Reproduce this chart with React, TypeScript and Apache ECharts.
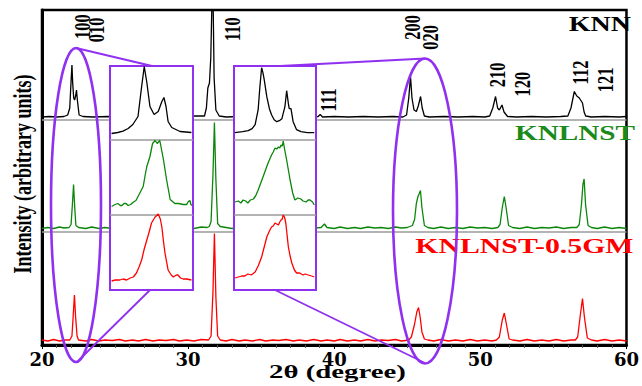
import { useEffect, useRef } from 'react';
import * as echarts from 'echarts';

// ---------- data ----------
const TWO_THETA_RANGE = [20, 60];
const TWO_THETA_STEP = 10;
const SAMPLE_NAMES = ['KNN', 'KNLNST', 'KNLNST-0.5GM'];
const SAMPLE_COLORS = ['#000000', '#0b860b', '#ff0000'];
const X_AXIS_NAME = '2θ (degree)';
const Y_AXIS_NAME = 'Intensity (arbitrary units)';
const PEAK_LABELS = ['100', '010', '110', '111', '200', '020', '210', '120', '112', '121'];

// main patterns: [2θ, intensity (a.u.)]
const KNN: [number, number][] = [
  [20.0, 1], [20.5, 1.5], [21.0, 1], [21.5, 1.5], [21.76, 3], [21.9, 10], [22.0, 40], [22.05, 53], [22.1, 35],
  [22.17, 20], [22.23, 18], [22.3, 22], [22.36, 28], [22.42, 18], [22.54, 3], [22.8, 1.5], [23.5, 1],
  [24.5, 1.5], [25.5, 1], [26.5, 1.5], [27.5, 2], [28.5, 1], [29.5, 1.5], [30.5, 2], [31.12, 2],
  [31.25, 10], [31.35, 30], [31.46, 35], [31.55, 60], [31.68, 150], [31.78, 40], [31.9, 8], [32.13, 2],
  [32.6, 1], [33.5, 1.5], [34.5, 1], [35.5, 1.5], [36.5, 1], [37.5, 1.5], [38.5, 1], [38.9, 1.5],
  [39.04, 3.5], [39.2, 1], [40, 1.5], [41, 1], [42, 1.5], [43, 1], [44, 1.5], [44.7, 1], [44.95, 3],
  [45.1, 20], [45.22, 41.5], [45.32, 20], [45.46, 8], [45.62, 6.5], [45.75, 12], [45.91, 21.5],
  [46.02, 10], [46.17, 2], [46.5, 1], [47.5, 1.5], [48.5, 1], [49.5, 1.5], [50.3, 1], [50.64, 2],
  [50.85, 10], [51.04, 21.5], [51.18, 10], [51.3, 8], [51.48, 13], [51.62, 6], [51.86, 1.5], [52.5, 1],
  [53.5, 1.5], [54.5, 1], [55.5, 1.5], [55.99, 2], [56.2, 10], [56.43, 26.5], [56.6, 22], [56.77, 20],
  [56.99, 15], [57.1, 6], [57.21, 2], [57.6, 1], [58.5, 1.5], [59.5, 1], [60, 1.5],
];

const KNLNST: [number, number][] = [
  [20, 1], [20.4, 2], [20.8, 1], [21.2, 2.5], [21.5, 1.5], [21.85, 2], [21.99, 5], [22.08, 25], [22.16, 45],
  [22.24, 22], [22.32, 4], [22.5, 2], [23, 1], [23.4, 2.5], [23.9, 1], [24.3, 2], [24.8, 1], [25.3, 2.5],
  [25.7, 1.5], [26.2, 2], [26.6, 1], [27.1, 2.5], [27.6, 1], [28.0, 2], [28.5, 1], [29.0, 2.5], [29.4, 1.5],
  [29.9, 2], [30.4, 1], [30.9, 2.5], [31.3, 2], [31.45, 3], [31.57, 8], [31.7, 55], [31.8, 107], [31.9, 50],
  [32.02, 6], [32.2, 3], [32.6, 2], [33.0, 1], [33.5, 2.5], [33.9, 1], [34.4, 2], [34.9, 1], [35.3, 2.5],
  [35.8, 1], [36.2, 2], [36.7, 1.5], [37.2, 2.5], [37.6, 1], [38.1, 2], [38.6, 1.5], [39.1, 2], [39.33, 5.5],
  [39.5, 2], [40, 1], [40.4, 2.5], [40.9, 1], [41.4, 2], [41.8, 1], [42.3, 2.5], [42.8, 1.5], [43.2, 2],
  [43.7, 1], [44.2, 2.5], [44.6, 1.5], [45.0, 2], [45.35, 4], [45.5, 10], [45.62, 26], [45.73, 33],
  [45.82, 36], [45.9, 39], [46.0, 22], [46.17, 4], [46.4, 2], [46.8, 1], [47.3, 2.5], [47.8, 1], [48.3, 2],
  [48.8, 1], [49.3, 2.5], [49.8, 1.5], [50.3, 2], [50.8, 1], [51.2, 2], [51.35, 5], [51.5, 22], [51.64, 33],
  [51.78, 20], [51.93, 4], [52.2, 2], [52.7, 1], [53.2, 2.5], [53.7, 1], [54.2, 2], [54.7, 1.5], [55.2, 2.5],
  [55.7, 1], [56.2, 2], [56.6, 2], [56.77, 5], [56.92, 25], [57.02, 45], [57.1, 50.5], [57.2, 25],
  [57.37, 4], [57.6, 2], [58, 1], [58.5, 2.5], [59, 1], [59.5, 2], [60, 1],
];

const KNLNST_GM: [number, number][] = [
  [20, 2], [20.4, 1], [20.8, 2.5], [21.2, 1], [21.6, 2], [21.9, 2], [22.05, 6], [22.13, 25], [22.22, 47],
  [22.3, 25], [22.4, 6], [22.5, 2], [23, 1], [23.4, 2.5], [23.9, 1], [24.3, 2], [24.8, 1.5], [25.3, 2.5],
  [25.7, 1], [26.2, 2], [26.6, 1], [27.1, 2.5], [27.6, 1], [28.0, 2], [28.5, 1.5], [29.0, 2.5], [29.4, 1],
  [29.9, 2], [30.4, 1], [30.9, 2.5], [31.4, 2], [31.57, 6], [31.7, 50], [31.8, 108.5], [31.9, 45],
  [32.02, 6], [32.2, 2], [32.6, 1], [33.0, 2.5], [33.5, 1], [33.9, 2], [34.4, 1], [34.9, 2.5], [35.3, 1],
  [35.8, 2], [36.2, 1.5], [36.7, 2.5], [37.2, 1], [37.6, 2], [38.1, 1], [38.6, 2.5], [39.1, 1], [39.5, 2],
  [40, 1], [40.4, 2.5], [40.9, 1], [41.4, 2], [41.8, 1], [42.3, 2.5], [42.8, 1], [43.2, 2], [43.7, 1.5],
  [44.2, 2.5], [44.6, 1], [45.1, 2], [45.28, 5], [45.5, 18], [45.65, 30], [45.77, 34.5], [45.88, 25],
  [46.0, 10], [46.17, 3], [46.4, 2], [46.8, 1], [47.3, 2.5], [47.8, 1], [48.3, 2], [48.8, 1], [49.3, 2.5],
  [49.8, 1], [50.3, 2], [50.8, 1], [51.1, 2], [51.3, 5], [51.5, 22], [51.64, 29], [51.78, 18], [51.97, 3],
  [52.2, 2], [52.7, 1], [53.2, 2.5], [53.7, 1], [54.2, 2], [54.7, 1], [55.2, 2.5], [55.7, 1], [56.2, 2],
  [56.5, 2], [56.66, 5], [56.85, 28], [56.99, 43.5], [57.12, 25], [57.32, 4], [57.6, 2], [58, 1],
  [58.5, 2.5], [59, 1], [59.5, 2], [60, 1],
];

// inset 1 (100/010 region) and inset 2 (200/020 region): [2θ, intensity]
const INSET1_RANGE = [21.4, 23.0];
const INSET1_KNN: [number, number][] = [
  [21.43, 0], [21.55, 1], [21.65, 2.3], [21.75, 5], [21.84, 9], [21.94, 17], [22.01, 47], [22.06, 67],
  [22.11, 51], [22.17, 27], [22.25, 19], [22.33, 22], [22.4, 32], [22.44, 36], [22.48, 27], [22.52, 12],
  [22.59, 6], [22.75, 2], [22.97, 1],
];
const INSET1_KNLNST: [number, number][] = [
  [21.43, 0], [21.5, 2], [21.55, 3], [21.6, 1], [21.63, 1], [21.67, 3], [21.71, 3], [21.75, 1], [21.8, 2],
  [21.84, 4], [21.9, 6], [21.98, 14], [22.04, 20], [22.08, 32], [22.11, 40], [22.17, 50], [22.22, 63],
  [22.27, 66], [22.31, 63], [22.36, 66], [22.43, 47], [22.49, 27], [22.56, 7], [22.65, 3], [22.72, 3],
  [22.81, 2], [22.88, 2], [22.91, 5], [22.94, 6], [22.96, 2], [22.98, 1],
];
const INSET1_GM: [number, number][] = [
  [21.43, 0], [21.5, 1], [21.59, 1], [21.65, 2], [21.72, 1], [21.79, 3], [21.85, 4], [21.91, 8], [21.96, 14],
  [22.01, 21], [22.06, 32], [22.11, 41], [22.16, 50], [22.2, 58], [22.27, 64], [22.33, 67], [22.37, 62],
  [22.4, 54], [22.43, 40], [22.46, 28], [22.52, 11], [22.58, 6], [22.62, 4], [22.68, 6], [22.71, 6],
  [22.76, 3], [22.81, 2], [22.88, 2], [22.97, 1],
];
const INSET2_RANGE = [44.6, 46.5];
const INSET2_KNN: [number, number][] = [
  [44.62, 0], [44.8, 1], [44.93, 2], [45.02, 4], [45.09, 8], [45.16, 23], [45.2, 46], [45.24, 65], [45.27, 60],
  [45.3, 53], [45.36, 36], [45.42, 24], [45.47, 18], [45.53, 13], [45.59, 11], [45.65, 12], [45.71, 14],
  [45.78, 26], [45.82, 42], [45.86, 29], [45.88, 24], [45.92, 24], [45.97, 11], [46.05, 3], [46.15, 1],
  [46.3, 0], [46.46, 0],
];
const INSET2_KNLNST: [number, number][] = [
  [44.62, 1], [44.7, 2], [44.76, 0], [44.81, 3], [44.87, 2], [44.92, 0], [44.98, 3], [45.05, 4], [45.1, 7],
  [45.16, 13], [45.22, 20], [45.28, 27], [45.33, 33], [45.39, 40], [45.43, 44], [45.47, 48], [45.51, 51],
  [45.55, 55], [45.59, 54], [45.63, 56], [45.66, 55], [45.69, 58], [45.72, 57], [45.74, 62], [45.78, 52],
  [45.82, 43], [45.86, 33], [45.9, 23], [45.96, 10], [46.01, 3], [46.08, 5], [46.15, 4], [46.2, 2],
  [46.27, 1], [46.32, 3], [46.36, 3], [46.42, 1], [46.46, -2],
];
const INSET2_GM: [number, number][] = [
  [44.62, -1], [44.7, 0], [44.78, 1], [44.85, 1], [44.92, 3], [45.0, 2], [45.09, 5], [45.16, 11], [45.24, 20],
  [45.3, 30], [45.36, 40], [45.42, 46], [45.47, 50], [45.51, 51], [45.55, 54], [45.59, 53], [45.63, 52],
  [45.66, 55], [45.69, 57], [45.72, 58], [45.74, 62], [45.77, 60], [45.8, 54], [45.83, 42], [45.86, 30],
  [45.9, 21], [45.94, 14], [46.0, 7], [46.05, 4], [46.12, 4], [46.2, 2], [46.25, 3], [46.32, 2], [46.4, 1],
  [46.46, 0],
];

// ---------- layout / style ----------
const PURPLE = '#9030f0';
const SEP = '#9a9a9a';
const MAIN_OFFSETS = [227, 115.5, 3];
const MAIN_SEPARATORS = [225, 113];
const INSET1_OFFSETS = [156.5, 83.5, 9];
const INSET2_OFFSETS = [157.3, 87, 13];
const INSET_SEPARATORS = [150.5, 75.5];
const SERIF = '"Liberation Serif", "Times New Roman", serif';
const PEAK_LABEL_POS: [number, number][] = [
  [82.7, 26.7], [96.7, 30], [232.5, 29.2], [328.5, 100], [412.5, 27.5], [430.8, 37.5],
  [497.5, 75], [522.5, 84.2], [580.8, 72.5], [605.8, 80],
];

const shift = (d: [number, number][], off: number) => d.map(([x, y]) => [x, y + off]);

const lineSeries = (data: any[], color: string, axis: number, z: number, sepValues?: number[]) => ({
  type: 'line',
  data,
  xAxisIndex: axis,
  yAxisIndex: axis,
  showSymbol: false,
  symbol: 'none',
  clip: true,
  z,
  lineStyle: { color, width: 1.3 },
  silent: true,
  ...(sepValues
    ? {
        markLine: {
          silent: true,
          symbol: 'none',
          label: { show: false },
          lineStyle: { color: SEP, width: 1.6, type: 'solid' },
          data: sepValues.map((v) => ({ yAxis: v })),
          z: z - 1,
        },
      }
    : {}),
});

export default function App() {
  const ref = useRef<HTMLDivElement>(null);
  useEffect(() => {
    if (!ref.current) return;
    const chart = echarts.init(ref.current, undefined, { renderer: 'svg' });
    const mainSets = [KNN, KNLNST, KNLNST_GM];
    const in1 = [INSET1_KNN, INSET1_KNLNST, INSET1_GM];
    const in2 = [INSET2_KNN, INSET2_KNLNST, INSET2_GM];

    const series: any[] = [];
    mainSets.forEach((d, i) =>
      series.push(lineSeries(shift(d, MAIN_OFFSETS[i]), SAMPLE_COLORS[i], 0, 3, i === 0 ? MAIN_SEPARATORS : undefined))
    );
    in1.forEach((d, i) =>
      series.push(lineSeries(shift(d, INSET1_OFFSETS[i]), SAMPLE_COLORS[i], 1, 12, i === 0 ? INSET_SEPARATORS : undefined))
    );
    in2.forEach((d, i) =>
      series.push(lineSeries(shift(d, INSET2_OFFSETS[i]), SAMPLE_COLORS[i], 2, 12, i === 0 ? INSET_SEPARATORS : undefined))
    );

    const hiddenAxis = (min: number, max: number, idx: number) => ({
      type: 'value', min, max, gridIndex: idx, show: false,
    });

    const rotText = (text: string, x: number, y: number, size: number, sy: number) => ({
      type: 'text',
      x, y,
      rotation: Math.PI / 2,
      scaleY: sy,
      z: 50,
      style: {
        text, fill: '#000', fontSize: size, fontWeight: 'bold', fontFamily: SERIF,
        align: 'center', verticalAlign: 'middle',
      },
    });
    const hText = (text: string, x: number, y: number, size: number, sx: number, color: string, align: string) => ({
      type: 'text',
      x, y,
      scaleX: sx,
      z: 50,
      style: {
        text, fill: color, fontSize: size, fontWeight: 'bold', fontFamily: SERIF,
        align, verticalAlign: 'middle',
      },
    });
    const pLine = (x1: number, y1: number, x2: number, y2: number) => ({
      type: 'line', z: 60, shape: { x1, y1, x2, y2 }, style: { stroke: PURPLE, lineWidth: 1.8 },
    });
    const pEllipse = (cx: number, cy: number, rx: number, ry: number) => ({
      type: 'ellipse', z: 60, shape: { cx, cy, rx, ry }, style: { fill: 'none', stroke: PURPLE, lineWidth: 2.6 },
    });

    chart.setOption({
      animation: false,
      grid: [
        { left: 42, right: 1.5, top: 10, bottom: 41, show: true, borderColor: '#000', borderWidth: 2.5, z: 0 },
        { left: 110, top: 66, width: 83, height: 224, show: true, backgroundColor: '#fff', borderColor: PURPLE, borderWidth: 2, z: 10 },
        { left: 234, top: 66, width: 82, height: 224, show: true, backgroundColor: '#fff', borderColor: PURPLE, borderWidth: 2, z: 10 },
      ],
      xAxis: [
        {
          type: 'value',
          gridIndex: 0,
          min: TWO_THETA_RANGE[0],
          max: TWO_THETA_RANGE[1],
          interval: TWO_THETA_STEP,
          axisLine: { show: true, onZero: false, lineStyle: { color: '#000', width: 3 } },
          axisTick: { show: true, length: 4, lineStyle: { color: '#000', width: 1 } },
          minorTick: { show: true, splitNumber: 10, length: 3, lineStyle: { color: '#555', width: 1 } },
          splitLine: { show: false },
          axisLabel: {
            color: '#000', fontSize: 18, fontWeight: 'bold', fontFamily: '"DejaVu Serif", serif', margin: 5,
          },
        },
        hiddenAxis(INSET1_RANGE[0], INSET1_RANGE[1], 1),
        hiddenAxis(INSET2_RANGE[0], INSET2_RANGE[1], 2),
      ],
      yAxis: [
        {
          type: 'value', gridIndex: 0, min: 0, max: 335,
          axisLine: { show: true, lineStyle: { color: '#000', width: 3 } },
          axisTick: { show: false }, axisLabel: { show: false }, splitLine: { show: false },
        },
        hiddenAxis(0, 224, 1),
        hiddenAxis(0, 224, 2),
      ],
      series,
      graphic: [
        pEllipse(76, 205, 25, 157),
        pEllipse(425, 211, 32, 152.5),
        pLine(76, 48, 152, 66),
        pLine(150, 290, 78, 361),
        pLine(280, 66, 425, 58.5),
        pLine(275, 290, 425, 363),
        ...PEAK_LABELS.map((t, i) => rotText(t, PEAK_LABEL_POS[i][0], PEAK_LABEL_POS[i][1], 16.5, 1.35)),
        rotText(Y_AXIS_NAME, 23, 174, 18, 1.35),
        hText(SAMPLE_NAMES[0], 631, 24.5, 20, 1.4, SAMPLE_COLORS[0], 'right'),
        hText(SAMPLE_NAMES[1], 635, 133.5, 20, 1.46, '#1a8a1a', 'right'),
        hText(SAMPLE_NAMES[2], 633.5, 246.5, 21, 1.42, SAMPLE_COLORS[2], 'right'),
        hText(X_AXIS_NAME, 337.5, 372, 18, 1.6, '#000', 'center'),
      ],
    });
    return () => chart.dispose();
  }, []);
  return <div ref={ref} style={{ position: 'fixed', left: 0, top: 0, width: 642, height: 386, background: '#fff' }} />;
}
